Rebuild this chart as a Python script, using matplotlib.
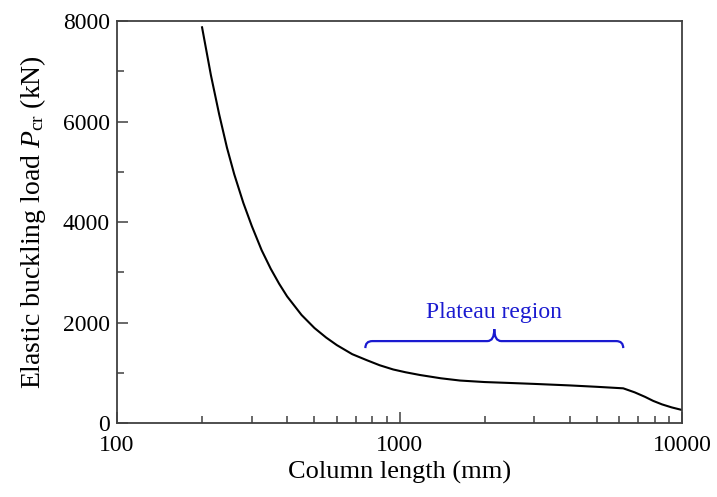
import numpy as np
import matplotlib
matplotlib.use("Agg")
import matplotlib.pyplot as plt
from matplotlib.path import Path
from matplotlib.patches import PathPatch
from matplotlib.ticker import FixedLocator, MultipleLocator, LogLocator, NullFormatter

plt.rcParams['font.family'] = ['Liberation Serif', 'DejaVu Serif']
plt.rcParams['mathtext.fontset'] = 'custom'
plt.rcParams['mathtext.rm'] = 'Liberation Serif'
plt.rcParams['mathtext.it'] = 'Liberation Serif:italic'

# column length (mm) and elastic buckling load (kN)
length = [200, 215, 230, 245, 260, 280, 300, 325, 350, 375, 400, 450, 500,
          550, 600, 680, 766, 850, 950, 1050, 1182, 1400, 1637, 2000, 2500,
          3000, 4000, 5000, 6194, 6800, 7400, 7906, 8500, 9200, 10000]
load = [7875, 6920, 6140, 5480, 4950, 4380, 3920, 3440, 3070, 2770, 2520,
        2150, 1890, 1700, 1550, 1370, 1250, 1150, 1065, 1010, 955, 890, 845,
        815, 795, 778, 748, 720, 690, 610, 520, 440, 370, 310, 259]

plateau_start = 757
plateau_end = 6194
brace_level = 1630
brace_color = '#1a1ad0'

fig = plt.figure(figsize=(7.17, 4.97), dpi=100)
ax = fig.add_axes([0.1632, 0.1489, 0.9512 - 0.1632, 0.9577 - 0.1489])

ax.plot(length, load, color='black', linewidth=1.5)

ax.set_xscale('log')
ax.set_xlim(100, 10000)
ax.set_ylim(0, 8000)
ax.xaxis.set_major_locator(FixedLocator([100, 1000, 10000]))
ax.xaxis.set_minor_locator(LogLocator(base=10, subs=np.arange(2, 10)))
ax.xaxis.set_minor_formatter(NullFormatter())
ax.set_xticklabels(['100', '1000', '10000'])
ax.yaxis.set_major_locator(MultipleLocator(2000))
ax.yaxis.set_minor_locator(MultipleLocator(1000))

for s in ax.spines.values():
    s.set_color('#404040')
    s.set_linewidth(1.3)
ax.tick_params(which='both', direction='in', top=False, right=False,
               color='#404040', width=1.1, labelsize=17)
ax.tick_params(which='major', length=8)
ax.tick_params(which='minor', length=5)
ax.tick_params(axis='x', which='major', pad=9)
ax.tick_params(axis='y', which='major', pad=5)

ax.set_xlabel('Column length (mm)', fontsize=19, labelpad=3)
ax.set_ylabel(r'Elastic buckling load $P_{\rm cr}$ (kN)', fontsize=20, labelpad=11)

# curly brace over the plateau, built in pixel space
fig.canvas.draw()
x0, yb = ax.transData.transform((plateau_start, brace_level))
x1, _ = ax.transData.transform((plateau_end, brace_level))
xm = (x0 + x1) / 2
r, hook, tip = 7, 7, 12
verts = [(x0, yb - hook), (x0, yb), (x0 + r, yb),
         (xm - r, yb),
         (xm, yb), (xm, yb + tip),
         (xm, yb), (xm + r, yb),
         (x1 - r, yb),
         (x1, yb), (x1, yb - hook)]
codes = [Path.MOVETO, Path.CURVE3, Path.CURVE3,
         Path.LINETO,
         Path.CURVE3, Path.CURVE3,
         Path.CURVE3, Path.CURVE3,
         Path.LINETO,
         Path.CURVE3, Path.CURVE3]
verts_ax = ax.transAxes.inverted().transform(verts)
ax.add_patch(PathPatch(Path(verts_ax, codes), transform=ax.transAxes,
                       fill=False, edgecolor=brace_color, linewidth=1.6,
                       clip_on=False))

mid_len = np.sqrt(plateau_start * plateau_end)
ax.text(mid_len, brace_level + 570, 'Plateau region', color=brace_color,
        fontsize=17, ha='center', va='center')

fig.savefig('out.png', dpi=100)
